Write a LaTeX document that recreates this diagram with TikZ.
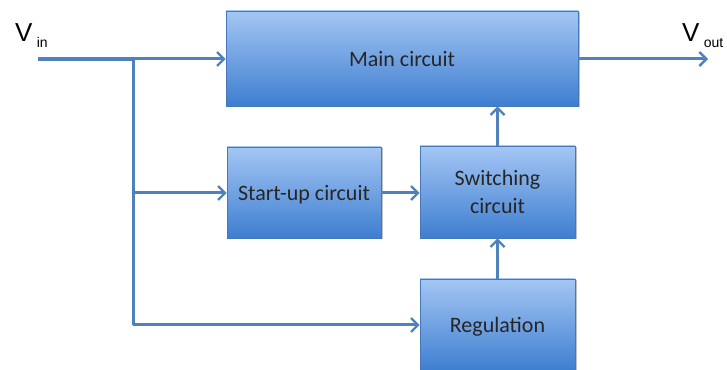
\documentclass[tikz,border=0pt]{standalone}
\usepackage{fontspec}
\setmainfont{Carlito}
\newfontfamily\arialf{Liberation Sans}
\usetikzlibrary{arrows.meta,shadows}
\definecolor{linec}{HTML}{4F81BD}
\definecolor{boxtop}{HTML}{A4C6F4}
\definecolor{boxbot}{HTML}{3E7ED0}
\definecolor{boxedge}{HTML}{4677BB}
\tikzset{
  blockbox/.style={draw=boxedge, line width=0.6pt, top color=boxtop, bottom color=boxbot,
    inner sep=0pt, font=\fontsize{22}{28}\selectfont, text=black!85, align=center, text depth=0pt,
    drop shadow={shadow xshift=1.5pt, shadow yshift=-1.5pt, opacity=0.25, fill=black}},
  conn/.style={draw=linec, line width=3pt, -{Straight Barb[length=7pt,width=14pt,line width=2.4pt]}},
  plain/.style={draw=linec, line width=3pt},
}
\begin{document}
\begin{tikzpicture}[x=1pt,y=1pt]
\useasboundingbox (0,0) rectangle (727,369);
% boxes (y = 369 - ypx)
\node[blockbox, minimum width=352pt, minimum height=95pt] (main) at (402,310.5) {Main circuit};
\node[blockbox, minimum width=154pt, minimum height=91pt] (start) at (304,176.5) {Start-up circuit};
\node[blockbox, minimum width=155pt, minimum height=92pt] (switch) at (497.5,177) {Switching\\circuit};
\node[blockbox, minimum width=155pt, minimum height=92pt] (reg) at (497.5,44) {Regulation};
% labels
\node[anchor=base west, inner sep=0pt, font=\arialf\fontsize{26}{28}\selectfont] (vin) at (15,327) {V\,\raisebox{-6pt}{\fontsize{14}{16}\selectfont in}};
\node[anchor=base west, inner sep=0pt, font=\arialf\fontsize{26}{28}\selectfont] (vout) at (682,327) {V\,\raisebox{-6pt}{\fontsize{14}{16}\selectfont out}};
% coordinates
\coordinate (vstart) at (38,310);
\coordinate (jtop) at (133,310);
\coordinate (jmid) at (133,176);
\coordinate (jbot) at (133,44);
\coordinate (voutend) at (708,310);
% connectors
\draw[draw=linec, line width=4.5pt] (vstart) -- (jtop);
\draw[conn] (jtop) -- (main.west |- jtop);
\draw[plain] (jtop) -- (jbot);
\draw[conn] (jmid) -- (start.west |- jmid);
\draw[conn] (jbot) -- (reg.west |- jbot);
\draw[conn] (start.east |- jmid) -- (switch.west |- jmid);
\draw[conn] (switch.north) -- (main.south -| switch.north);
\draw[conn] (reg.north) -- (switch.south);
\draw[conn] (main.east |- jtop) -- (voutend);
\end{tikzpicture}
\end{document}
